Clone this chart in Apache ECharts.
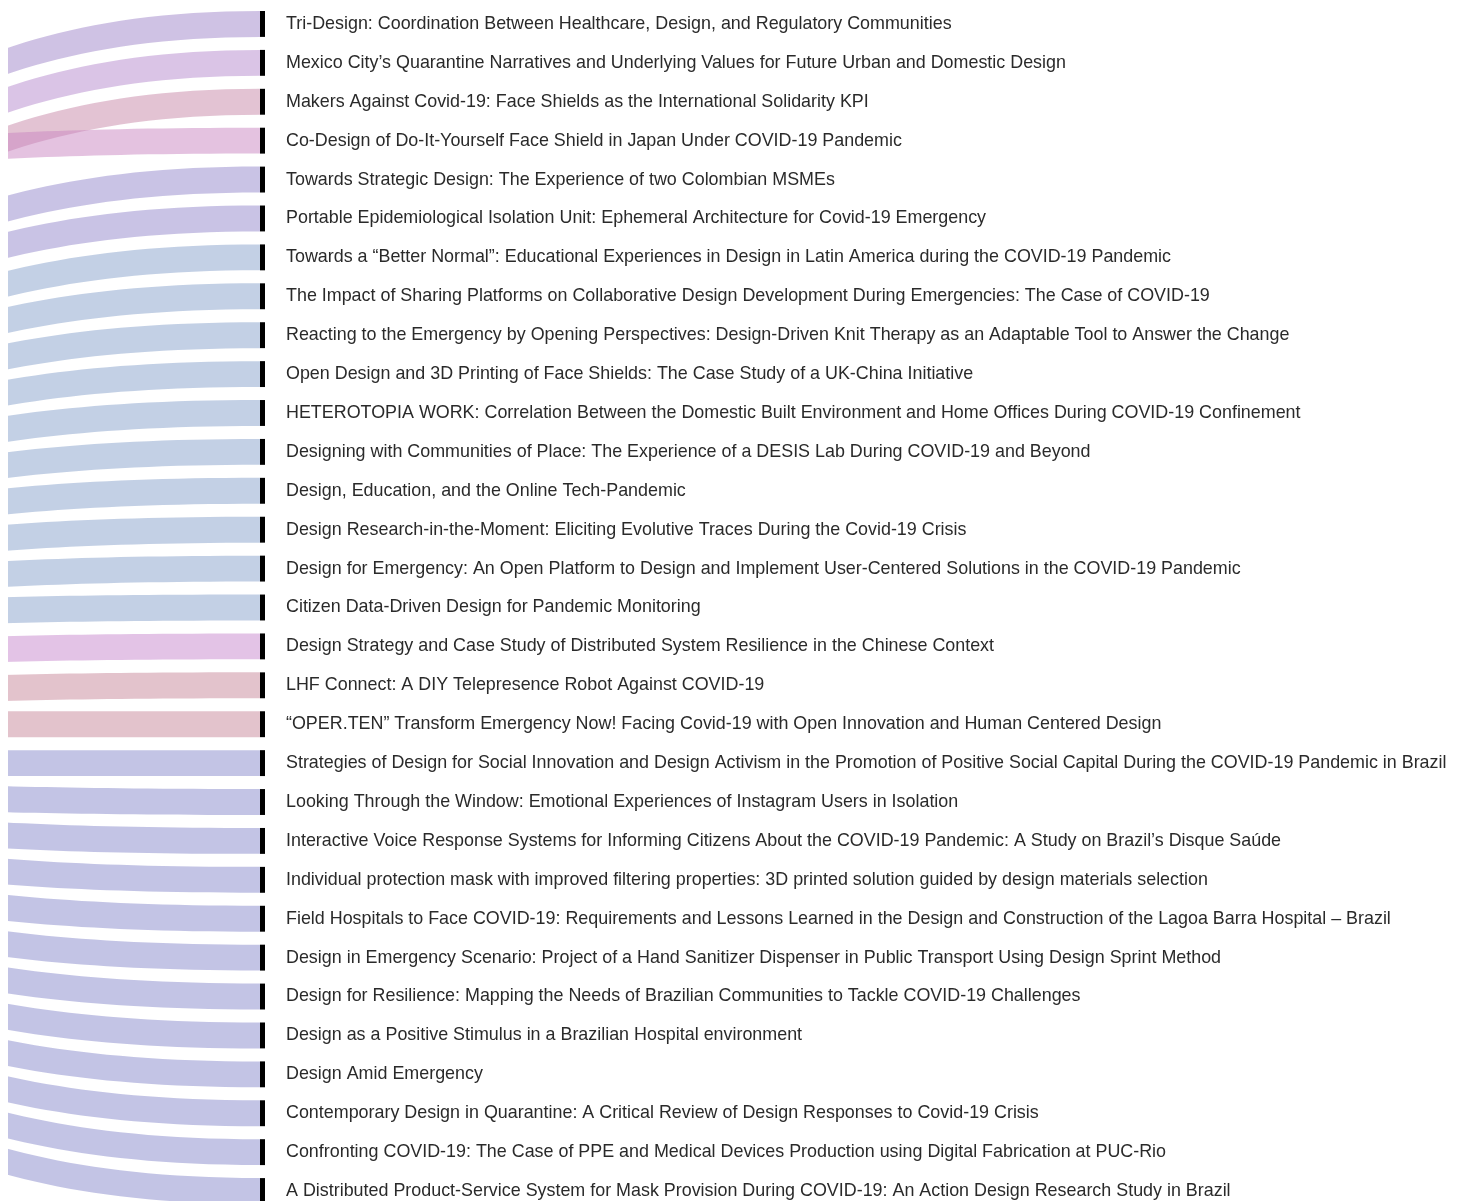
<!DOCTYPE html>
<html>
<head>
<meta charset="utf-8">
<title>Sankey</title>
<script src="https://cdn.jsdelivr.net/npm/echarts@6/dist/echarts.min.js"></script>
<style>
  html, body { margin: 0; padding: 0; background: #ffffff; }
  .clip { position: absolute; left: 8px; top: 0; width: 1454px; height: 1201px; overflow: hidden; }
  #chart { position: absolute; left: -700px; top: 0; width: 2154px; height: 1220px; }
</style>
</head>
<body>
<div class="clip"><div id="chart"></div></div>
<script>
  // source groups (the left column sits outside the visible crop)
  const sources = ['Japan', 'United States', 'Mexico', 'Spain', 'Colombia', 'Italy', 'China', 'Portugal', 'Brazil']
  const sourceColors = ['#c985c1', '#9f85c9', '#b589cd', '#c787a7', '#9387cb', '#87a1cb', '#c787cd', '#c78799', '#8789cb']

  const titles = [
    'Tri-Design: Coordination Between Healthcare, Design, and Regulatory Communities',
    'Mexico City\u2019s Quarantine Narratives and Underlying Values for Future Urban and Domestic Design',
    'Makers Against Covid-19: Face Shields as the International Solidarity KPI',
    'Co-Design of Do-It-Yourself Face Shield in Japan Under COVID-19 Pandemic',
    'Towards Strategic Design: The Experience of two Colombian MSMEs',
    'Portable Epidemiological Isolation Unit: Ephemeral Architecture for Covid-19 Emergency',
    'Towards a \u201cBetter Normal\u201d: Educational Experiences in Design in Latin America during the COVID-19 Pandemic',
    'The Impact of Sharing Platforms on Collaborative Design Development During Emergencies: The Case of COVID-19',
    'Reacting to the Emergency by Opening Perspectives: Design-Driven Knit Therapy as an Adaptable Tool to Answer the Change',
    'Open Design and 3D Printing of Face Shields: The Case Study of a UK-China Initiative',
    'HETEROTOPIA WORK: Correlation Between the Domestic Built Environment and Home Offices During COVID-19 Confinement',
    'Designing with Communities of Place: The Experience of a DESIS Lab During COVID-19 and Beyond',
    'Design, Education, and the Online Tech-Pandemic',
    'Design Research-in-the-Moment: Eliciting Evolutive Traces During the Covid-19 Crisis',
    'Design for Emergency: An Open Platform to Design and Implement User-Centered Solutions in the COVID-19 Pandemic',
    'Citizen Data-Driven Design for Pandemic Monitoring',
    'Design Strategy and Case Study of Distributed System Resilience in the Chinese Context',
    'LHF Connect: A DIY Telepresence Robot Against COVID-19',
    '\u201cOPER.TEN\u201d Transform Emergency Now! Facing Covid-19 with Open Innovation and Human Centered Design',
    'Strategies of Design for Social Innovation and Design Activism in the Promotion of Positive Social Capital During the COVID-19 Pandemic in Brazil',
    'Looking Through the Window: Emotional Experiences of Instagram Users in Isolation',
    'Interactive Voice Response Systems for Informing Citizens About the COVID-19 Pandemic: A Study on Brazil\u2019s Disque Sa\u00fade',
    'Individual protection mask with improved filtering properties: 3D printed solution guided by design materials selection',
    'Field Hospitals to Face COVID-19: Requirements and Lessons Learned in the Design and Construction of the Lagoa Barra Hospital \u2013 Brazil',
    'Design in Emergency Scenario: Project of a Hand Sanitizer Dispenser in Public Transport Using Design Sprint Method',
    'Design for Resilience: Mapping the Needs of Brazilian Communities to Tackle COVID-19 Challenges',
    'Design as a Positive Stimulus in a Brazilian Hospital environment',
    'Design Amid Emergency',
    'Contemporary Design in Quarantine: A Critical Review of Design Responses to Covid-19 Crisis',
    'Confronting COVID-19: The Case of PPE and Medical Devices Production using Digital Fabrication at PUC-Rio',
    'A Distributed Product-Service System for Mask Provision During COVID-19: An Action Design Research Study in Brazil'
  ]

  // source of each paper, same order as titles
  const titleSource = [
    'United States', 'Mexico', 'Spain', 'Japan', 'Colombia', 'Colombia',
    'Italy', 'Italy', 'Italy', 'Italy', 'Italy', 'Italy', 'Italy', 'Italy', 'Italy', 'Italy',
    'China', 'Portugal', 'Portugal',
    'Brazil', 'Brazil', 'Brazil', 'Brazil', 'Brazil', 'Brazil', 'Brazil', 'Brazil', 'Brazil', 'Brazil', 'Brazil', 'Brazil'
  ]
  const linkValues = titles.map(() => 1)

  // empty block on top of the left column, keeps the source stack centred
  const topPad = 5

  const nodes = [{
    name: 'pad',
    value: topPad,
    itemStyle: { opacity: 0 },
    label: { show: false }
  }]
  sources.forEach(function (s, i) {
    nodes.push({ name: s, itemStyle: { color: sourceColors[i] }, label: { show: false } })
  })
  titles.forEach(function (t) {
    nodes.push({ name: t, itemStyle: { color: '#000000' } })
  })
  const links = titles.map(function (t, i) {
    return { source: titleSource[i], target: t, value: linkValues[i] }
  })

  const chart = echarts.init(document.getElementById('chart'), null, { renderer: 'canvas' })
  chart.setOption({
    animation: false,
    series: [{
      type: 'sankey',
      left: 190,
      right: 1197,
      top: 11,
      bottom: 16,
      nodeWidth: 5,
      nodeGap: 13,
      nodeAlign: 'left',
      layoutIterations: 0,
      draggable: false,
      emphasis: { disabled: true },
      data: nodes,
      links: links,
      label: {
        show: true,
        position: 'right',
        distance: 21,
        color: '#2a2a2a',
        fontFamily: 'Liberation Sans, Arial, sans-serif',
        fontSize: 17.9
      },
      lineStyle: {
        color: 'source',
        opacity: 0.5,
        curveness: 0.5
      }
    }]
  })
</script>
</body>
</html>
